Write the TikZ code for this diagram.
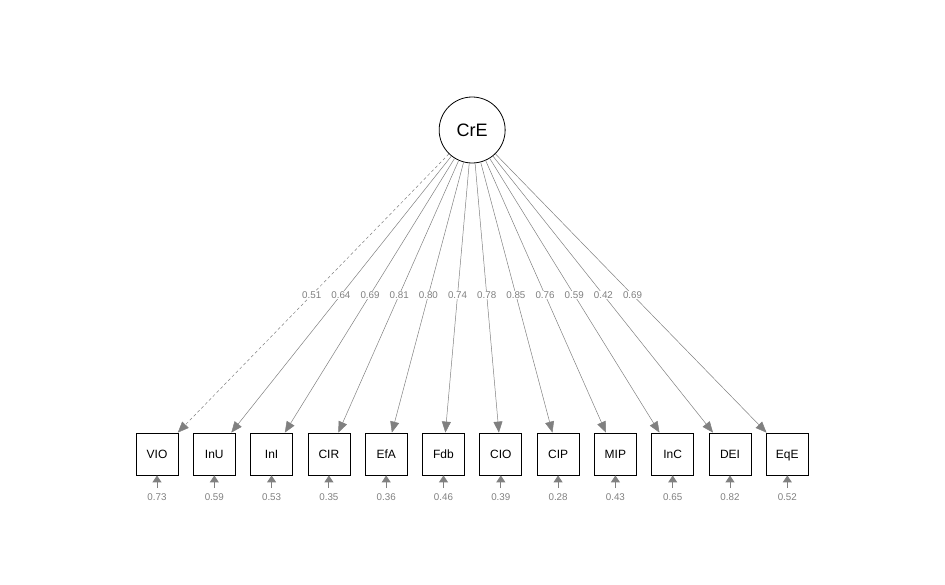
\documentclass[tikz,border=0pt]{standalone}
\usepackage{fontspec}
\setmainfont{Liberation Sans}
\usetikzlibrary{arrows.meta,calc}
\definecolor{edgegray}{RGB}{128,128,128}
\begin{document}
\begin{tikzpicture}[x=1pt,y=-1pt,
  manifest/.style={draw=black,line width=0.8pt,minimum width=42pt,minimum height=42pt,inner sep=0pt,text height=8.6pt,text depth=0.4pt,font=\fontsize{12}{14}\selectfont},
  latent/.style={draw=black,circle,minimum size=66pt,inner sep=0pt,line width=0.8pt,font=\fontsize{18}{21}\selectfont},
  load/.style={draw=edgegray,line width=0.5pt,-{Triangle[length=11pt,width=9pt]}},
  resid/.style={draw=edgegray,line width=1pt,-{Triangle[length=7pt,width=9pt]}},
  elab/.style={fill=white,text=edgegray,inner sep=0.6pt,font=\fontsize{9.8}{11}\selectfont},
  rlab/.style={text=edgegray,inner sep=0pt,font=\fontsize{9.8}{11}\selectfont}]
\useasboundingbox (0,0) rectangle (945,584);
\node[latent] (CrE) at (472.15,130) {CrE};
\foreach \n/\rv [count=\i from 0] in {VIO/0.73, InU/0.59, InI/0.53, CIR/0.35, EfA/0.36, Fdb/0.46, CIO/0.39, CIP/0.28, MIP/0.43, InC/0.65, DEI/0.82, EqE/0.52}{
  \node[manifest] (\n) at ({157+57.3*\i},454) {\n};
  \coordinate (r\n) at ({157+57.3*\i},488);
  \draw[resid] (r\n) -- (\n);
  \node[rlab] (v\n) at ({157+57.3*\i},497) {\rv};
}
\draw[load,dash pattern=on 3pt off 2.5pt] (CrE) -- (VIO);
\foreach \n in {InU,InI,CIR,EfA,Fdb,CIO,CIP,MIP,InC,DEI,EqE}{
  \draw[load] (CrE) -- (\n);
}
\foreach \n/\ld in {VIO/0.51, InU/0.64, InI/0.69, CIR/0.81, EfA/0.80, Fdb/0.74, CIO/0.78, CIP/0.85, MIP/0.76, InC/0.59, DEI/0.42, EqE/0.69}{
  \node[elab] (l\n) at ($(CrE)!0.509!(\n)$) {\ld};
}
\end{tikzpicture}
\end{document}
